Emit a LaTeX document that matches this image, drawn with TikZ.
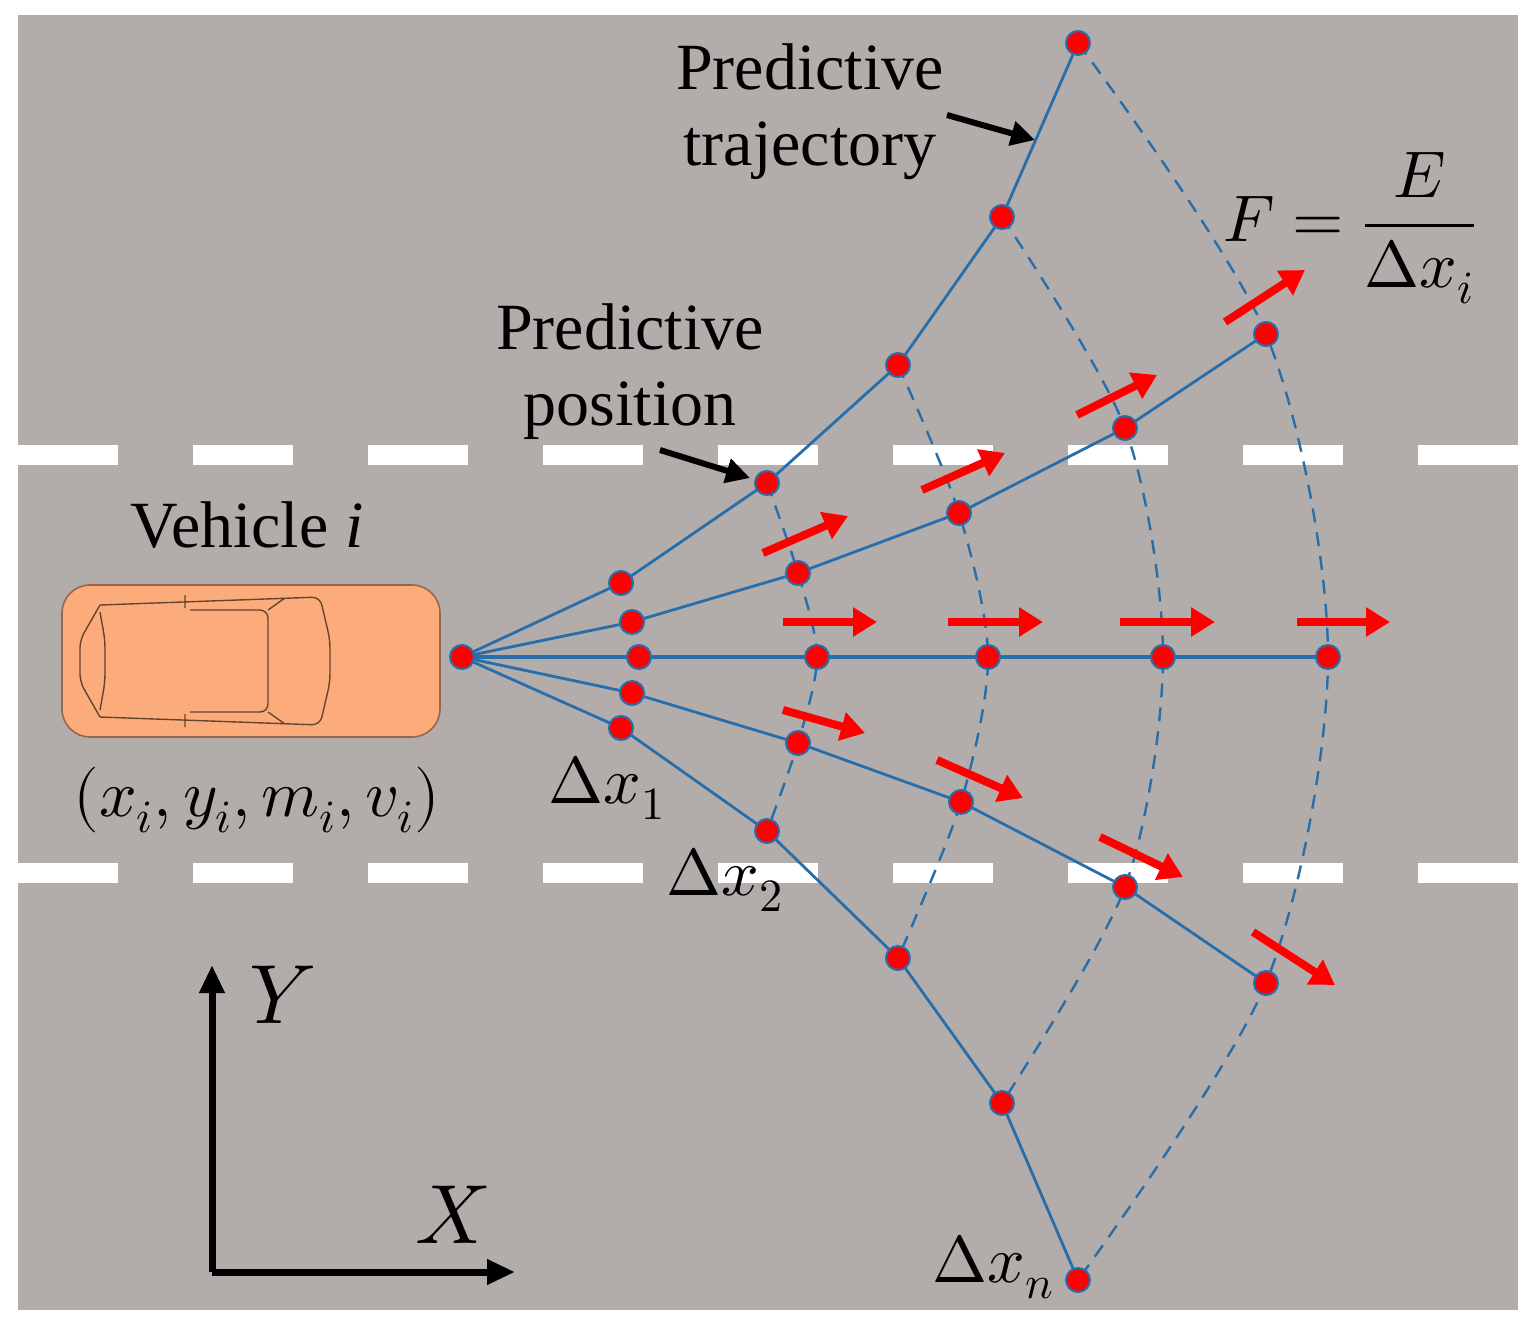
\documentclass[tikz,border=0pt]{standalone}
\usepackage{fontspec}
\usepackage{unicode-math}
\setmainfont{Liberation Serif}
\setmathfont{Latin Modern Math}
\usetikzlibrary{arrows.meta}
\definecolor{road}{RGB}{178,173,171}
\definecolor{traj}{RGB}{40,110,170}
\definecolor{car}{RGB}{252,172,122}
\begin{document}
\begin{tikzpicture}[x=0.5pt,y=-0.5pt,
 dot/.style={circle,fill=red,draw=traj,line width=1pt,minimum size=12pt,inner sep=0pt},
 tl/.style={traj,line width=1.4pt},
 arc/.style={traj,line width=1.2pt,dash pattern=on 7pt off 5pt},
 force/.style={red,line width=4pt,-{Triangle[length=12pt,width=14pt]}},
 pt/.style={-{Triangle[length=12pt,width=12pt]},line width=3pt},
 lbl/.style={font=\fontsize{33}{38}\selectfont,align=center}]
\useasboundingbox (0,0) rectangle (1538,1329);
\fill[white] (0,0) rectangle (1538,1329);
\fill[road] (18,15) rectangle (1518,1310);
\foreach \y in {455,873}
  \draw[white,line width=10pt,dash pattern=on 50pt off 37.5pt] (18,\y) -- (1518,\y);
% car
\node[draw=car!60!black,fill=car,rounded corners=14pt,minimum width=189pt,minimum height=76pt,line width=0.8pt] (car) at (251,661) {};
\draw[car!40!black,line width=0.7pt,rounded corners=4pt]
  (100,605)--(80,640)--(80,682)--(100,717)
  (100,605)--(320,597)--(330,640)--(330,682)--(320,725)--(100,717)
  (100,612)--(105,640)--(105,682)--(100,710)
  (190,610)--(268,610)--(268,712)--(190,712)
  (185,595)--(185,608) (185,714)--(185,727) (268,610)--(285,598) (268,712)--(285,724);
% points
\coordinate (o) at (462,657);
\foreach \n/\p in {a1/{621,583},a2/{767,483},a3/{898,365},a4/{1002,217},a5/{1078,43},
 b1/{632,622},b2/{798,573},b3/{959,513},b4/{1125,428},b5/{1266,334},
 c1/{639,657},c2/{817,657},c3/{988,657},c4/{1163,657},c5/{1328,657},
 d1/{632,693},d2/{798,743},d3/{961,802},d4/{1125,887},d5/{1266,983},
 e1/{621,728},e2/{767,831},e3/{898,958},e4/{1002,1103},e5/{1078,1280}}
 \coordinate (\n) at (\p);
\foreach \k in {2,3,4,5}
 \draw[arc] plot[smooth] coordinates {(a\k) (b\k) (c\k) (d\k) (e\k)};
\foreach \t in {a,b,d,e}
 \draw[tl] (o)--(\t1)--(\t2)--(\t3)--(\t4)--(\t5);
\draw[tl,line width=2.2pt] (o)--(c1)--(c2)--(c3)--(c4)--(c5);
\node[dot] (o0) at (o) {};
\foreach \t in {a,b,c,d,e}\foreach \k in {1,...,5} \node[dot] (n\t\k) at (\t\k) {};
% forces
\foreach \s/\e in {{783,622}/{877,622},{948,622}/{1043,622},{1120,622}/{1215,622},{1297,622}/{1390,622},
 {763,553}/{848,516},{922,490}/{1005,453},{1077,415}/{1157,375},{1225,322}/{1305,270},
 {783,710}/{865,733},{937,760}/{1023,798},{1100,837}/{1183,877},{1253,932}/{1335,985}}
 {\coordinate (fs) at (\s); \coordinate (fe) at (\e); \draw[force] (fs)--(fe);}
% labels
\node[lbl] (pt) at (810,112) {Predictive\\trajectory};
\coordinate (pta) at (947,115); \coordinate (ptb) at (1035,140);
\draw[pt] (pta)--(ptb);
\node[lbl] (pp) at (630,372) {Predictive\\position};
\coordinate (ppa) at (660,450); \coordinate (ppb) at (750,478);
\draw[pt] (ppa)--(ppb);
\node[lbl] (veh) at (247,525) {Vehicle \textit{i}};
\node[lbl] (st) at (257,800) {$(x_i,y_i,m_i,v_i)$};
\node[lbl] (x1) at (607,788) {$\Delta x_1$};
\node[lbl] (x2) at (725,880) {$\Delta x_2$};
\node[lbl] (xn) at (993,1267) {$\Delta x_n$};
\node[lbl] (F) at (1350,228) {$F=\displaystyle\frac{E}{\Delta x_i}$};
% axes
\coordinate (ax0) at (212,1272); \coordinate (axy) at (212,965); \coordinate (axx) at (515,1272);
\draw[line width=3.5pt,-{Triangle[length=14pt,width=12pt]}] (ax0)--(axy);
\draw[line width=3.5pt,-{Triangle[length=14pt,width=12pt]}] (ax0)--(axx);
\node[lbl,font=\fontsize{42}{46}\selectfont] (Y) at (283,995) {$Y$};
\node[lbl,font=\fontsize{42}{46}\selectfont] (X) at (452,1215) {$X$};
\end{tikzpicture}
\end{document}
